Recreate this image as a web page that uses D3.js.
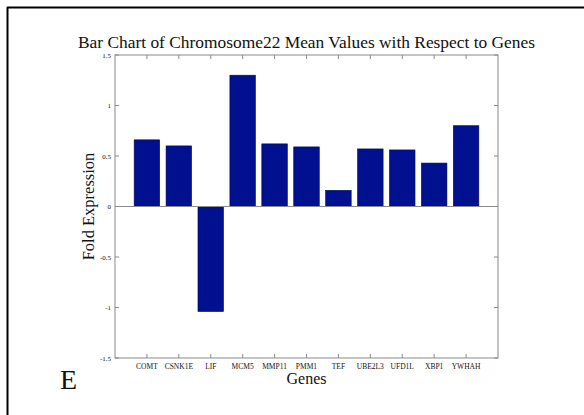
<!doctype html>
<html>
  <head>
    <style>
      body { margin: 0; background: white; }
      text { font-family: "Liberation Serif", "Times New Roman", serif; fill: #111; }
    </style>
    <script src="https://cdnjs.cloudflare.com/ajax/libs/d3/7.8.5/d3.min.js"></script>
  </head>
  <body>
    <div id="chart"></div>
    <script>
      // data
      var genes = ["COMT", "CSNK1E", "LIF", "MCM5", "MMP11", "PMM1", "TEF", "UBE2L3", "UFD1L", "XBP1", "YWHAH"];
      var foldValues = [0.66, 0.60, -1.04, 1.30, 0.62, 0.59, 0.16, 0.57, 0.56, 0.43, 0.80];
      var yTicks = [-1.5, -1, -0.5, 0, 0.5, 1, 1.5];

      var width = 584, height = 415;
      var plot = {left: 115, top: 55, right: 498, bottom: 358};
      var axisColor = "#8a8a8a";

      var svg = d3.select("#chart").append("svg")
                  .attr("width", width)
                  .attr("height", height);

      // outer frame (only top and left edges show in the crop)
      svg.append("line").attr("x1", 7).attr("x2", width).attr("y1", 7.5).attr("y2", 7.5)
         .attr("stroke", "black").attr("stroke-width", 2);
      svg.append("line").attr("x1", 7.5).attr("x2", 7.5).attr("y1", 7).attr("y2", height)
         .attr("stroke", "black").attr("stroke-width", 2);

      // categories sit at 1..n on a linear axis from 0 to n+1
      var x = d3.scaleLinear().domain([0, genes.length + 1]).range([plot.left, plot.right]);
      var y = d3.scaleLinear().domain([-1.5, 1.5]).range([plot.bottom, plot.top]);
      var step = x(1) - x(0);
      var barW = step * 0.8;

      // bars
      svg.selectAll(".bar")
         .data(foldValues)
         .enter().append("rect")
         .attr("class", "bar")
         .attr("x", function(d, i) { return x(i + 1) - barW / 2; })
         .attr("y", function(d) { return y(Math.max(0, d)); })
         .attr("width", barW)
         .attr("height", function(d) { return Math.abs(y(d) - y(0)); })
         .attr("fill", "#00108e")
         .attr("stroke", "#000a5a")
         .attr("stroke-width", 0.6);

      // baseline at zero
      svg.append("line")
         .attr("x1", plot.left).attr("x2", plot.right)
         .attr("y1", y(0)).attr("y2", y(0))
         .attr("stroke", axisColor).attr("stroke-width", 1);

      // axes box
      svg.append("rect")
         .attr("x", plot.left).attr("y", plot.top)
         .attr("width", plot.right - plot.left).attr("height", plot.bottom - plot.top)
         .attr("fill", "none").attr("stroke", axisColor).attr("stroke-width", 1);

      var tickLen = 4;
      // x ticks top and bottom, pointing inward
      var xt = svg.append("g").selectAll("g").data(genes).enter().append("g");
      xt.append("line")
        .attr("x1", function(d, i) { return x(i + 1); }).attr("x2", function(d, i) { return x(i + 1); })
        .attr("y1", plot.bottom).attr("y2", plot.bottom - tickLen)
        .attr("stroke", axisColor);
      xt.append("line")
        .attr("x1", function(d, i) { return x(i + 1); }).attr("x2", function(d, i) { return x(i + 1); })
        .attr("y1", plot.top).attr("y2", plot.top + tickLen)
        .attr("stroke", axisColor);
      xt.append("text")
        .attr("x", function(d, i) { return x(i + 1); })
        .attr("y", plot.bottom + 11)
        .attr("text-anchor", "middle")
        .style("font-size", "7.5px")
        .text(function(d) { return d; });

      // y ticks left and right
      var yt = svg.append("g").selectAll("g").data(yTicks).enter().append("g");
      yt.append("line")
        .attr("x1", plot.left).attr("x2", plot.left + tickLen)
        .attr("y1", function(d) { return y(d); }).attr("y2", function(d) { return y(d); })
        .attr("stroke", axisColor);
      yt.append("line")
        .attr("x1", plot.right).attr("x2", plot.right - tickLen)
        .attr("y1", function(d) { return y(d); }).attr("y2", function(d) { return y(d); })
        .attr("stroke", axisColor);
      yt.append("text")
        .attr("x", plot.left - 4)
        .attr("y", function(d) { return y(d) + 2.5; })
        .attr("text-anchor", "end")
        .style("font-size", "7px")
        .text(function(d) { return d; });

      // title and axis labels
      svg.append("text")
         .attr("x", (plot.left + plot.right) / 2).attr("y", 48)
         .attr("text-anchor", "middle")
         .style("font-size", "17.4px")
         .text("Bar Chart of Chromosome22 Mean Values with Respect to Genes");
      svg.append("text")
         .attr("x", (plot.left + plot.right) / 2).attr("y", 384)
         .attr("text-anchor", "middle")
         .style("font-size", "16px")
         .text("Genes");
      svg.append("text")
         .attr("transform", "translate(94," + (plot.top + plot.bottom) / 2 + ") rotate(-90)")
         .attr("text-anchor", "middle")
         .style("font-size", "16.5px")
         .text("Fold Expression");

      // panel letter
      svg.append("text")
         .attr("x", 60).attr("y", 389)
         .style("font-size", "28px")
         .text("E");
    </script>
  </body>
</html>
